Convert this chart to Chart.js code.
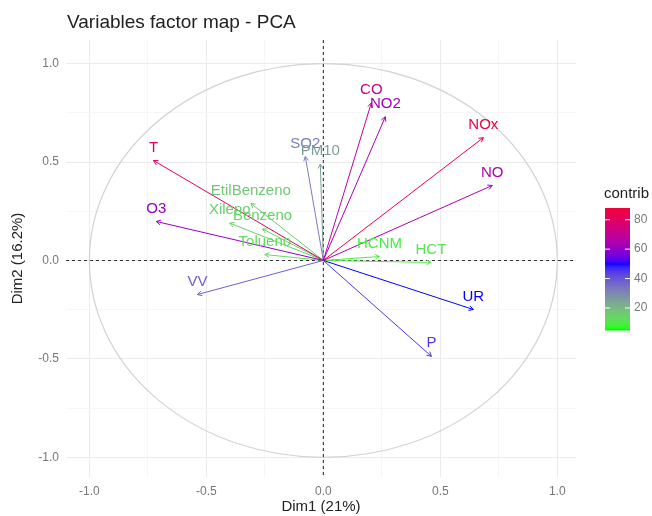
<!DOCTYPE html>
<html>
<head>
<meta charset="utf-8">
<script src="https://cdn.jsdelivr.net/npm/chart.js@4.4.0/dist/chart.umd.min.js"></script>
<style>
html,body{margin:0;padding:0;background:#fff}
#wrap{width:652px;height:516px}
</style>
</head>
<body>
<div id="wrap"><canvas id="pcaChart" width="652" height="516"></canvas></div>
<script>
// variables and their coordinates on Dim1 / Dim2
const variables = ['CO','NO2','NOx','NO','T','O3','VV','SO2','PM10','UR','P','EtilBenzeno','Xileno','Benzeno','Tolueno','HCNM','HCT']
const dim1 = [0.205,0.265,0.684,0.722,-0.726,-0.714,-0.538,-0.077,-0.013,0.641,0.462,-0.31,-0.40,-0.26,-0.25,0.24,0.46]
const dim2 = [0.80,0.73,0.624,0.381,0.508,0.198,-0.173,0.528,0.49,-0.249,-0.487,0.29,0.19,0.16,0.03,0.02,-0.01]
const contrib = [70,63,86,66,80,60,38,32,25,50,45,17,15,14,13,9,11]

const axisTicks = [-1,-0.5,0,0.5,1]
const axisTickLabels = ['-1.0','-0.5','0.0','0.5','1.0']
const minorTicks = [-0.75,-0.25,0.25,0.75]
const legendTicks = [20,40,60,80]
const legendLimits = [5,88]

// colour scale: green -> blue (mid 50) -> red, interpolated in Lab like ggplot
function toLab(hex){
  let c=[1,3,5].map(i=>parseInt(hex.substr(i,2),16)/255)
  c=c.map(v=>v<=0.04045?v/12.92:Math.pow((v+0.055)/1.055,2.4))
  let X=(0.4124*c[0]+0.3576*c[1]+0.1805*c[2])/0.95047
  let Y=(0.2126*c[0]+0.7152*c[1]+0.0722*c[2])
  let Z=(0.0193*c[0]+0.1192*c[1]+0.9505*c[2])/1.08883
  const f=t=>t>0.008856?Math.cbrt(t):7.787*t+16/116
  return [116*f(Y)-16,500*(f(X)-f(Y)),200*(f(Y)-f(Z))]
}
function fromLab(L,a,b){
  let fy=(L+16)/116,fx=fy+a/500,fz=fy-b/200
  const g=t=>t*t*t>0.008856?t*t*t:(t-16/116)/7.787
  let X=g(fx)*0.95047,Y=g(fy),Z=g(fz)*1.08883
  let r=3.2406*X-1.5372*Y-0.4986*Z
  let gg=-0.9689*X+1.8758*Y+0.0415*Z
  let bb=0.0557*X-0.2040*Y+1.0570*Z
  return 'rgb('+[r,gg,bb].map(v=>{
    v=v<=0.0031308?12.92*v:1.055*Math.pow(v,1/2.4)-0.055
    return Math.round(Math.min(1,Math.max(0,v))*255)
  }).join(',')+')'
}
const labLow=toLab('#00FF00'),labMid=toLab('#0000FF'),labHigh=toLab('#FF0000')
const cMin=legendLimits[0],cMax=legendLimits[1],cMidVal=50
function contribColor(v){
  let t=(v-cMidVal)/Math.max(Math.abs(cMin-cMidVal),Math.abs(cMax-cMidVal))/2+0.5
  let a,b,u
  if(t<0.5){a=labLow;b=labMid;u=t/0.5}else{a=labMid;b=labHigh;u=(t-0.5)/0.5}
  return fromLab(a[0]+(b[0]-a[0])*u,a[1]+(b[1]-a[1])*u,a[2]+(b[2]-a[2])*u)
}

const colors = contrib.map(contribColor)

const datasets = variables.map((v,i)=>({
  label:v,
  data:[{x:0,y:0},{x:dim1[i],y:dim2[i]}],
  showLine:true,
  borderColor:colors[i],
  borderWidth:1,
  pointRadius:0,
  fill:false
}))

Chart.defaults.font.family = "'Liberation Sans', Arial, sans-serif"

const decor = {
  id:'decor',
  beforeDatasetsDraw(chart){
    const {ctx,chartArea,scales:{x,y}} = chart
    const cx=x.getPixelForValue(0),cy=y.getPixelForValue(0)
    const rx=x.getPixelForValue(1)-cx,ry=cy-y.getPixelForValue(1)
    ctx.save()
    ctx.strokeStyle='#d2d2d2'
    ctx.lineWidth=1.2
    ctx.beginPath()
    ctx.ellipse(cx,cy,rx,ry,0,0,Math.PI*2)
    ctx.stroke()
    ctx.strokeStyle='#333'
    ctx.lineWidth=1.1
    ctx.setLineDash([3,3])
    ctx.beginPath()
    ctx.moveTo(chartArea.left,cy);ctx.lineTo(chartArea.right,cy)
    ctx.moveTo(cx,chartArea.top);ctx.lineTo(cx,chartArea.bottom)
    ctx.stroke()
    ctx.restore()
  },
  afterDatasetsDraw(chart){
    const {ctx} = chart
    ctx.save()
    variables.forEach((v,i)=>{
      const meta = chart.getDatasetMeta(i)
      const p0 = meta.data[0], p1 = meta.data[1]
      const ang = Math.atan2(p1.y-p0.y,p1.x-p0.x)
      const len = 5
      ctx.strokeStyle=colors[i]
      ctx.lineWidth=1
      ctx.beginPath()
      ctx.moveTo(p1.x-len*Math.cos(ang-0.5),p1.y-len*Math.sin(ang-0.5))
      ctx.lineTo(p1.x,p1.y)
      ctx.lineTo(p1.x-len*Math.cos(ang+0.5),p1.y-len*Math.sin(ang+0.5))
      ctx.stroke()
      ctx.fillStyle=colors[i]
      ctx.font="15px 'Liberation Sans', Arial, sans-serif"
      ctx.textAlign='center'
      ctx.textBaseline='middle'
      ctx.fillText(v,p1.x,p1.y-13)
    })
    // title
    ctx.fillStyle='#222'
    ctx.font="19px 'Liberation Sans', Arial, sans-serif"
    ctx.textAlign='left'
    ctx.textBaseline='middle'
    ctx.fillText('Variables factor map - PCA',chart.chartArea.left+1,23)
    // colour legend
    const lx=605,ly=208,lw=25,lh=122
    ctx.fillStyle='#222'
    ctx.font="15px 'Liberation Sans', Arial, sans-serif"
    ctx.fillText('contrib',604,194)
    for(let k=0;k<lh;k++){
      const val=cMax-(cMax-cMin)*(k/(lh-1))
      ctx.fillStyle=contribColor(val)
      ctx.fillRect(lx,ly+k,lw,1.5)
    }
    ctx.font="12px 'Liberation Sans', Arial, sans-serif"
    legendTicks.forEach(t=>{
      const py=ly+(cMax-t)/(cMax-cMin)*lh
      ctx.strokeStyle='#fff'
      ctx.lineWidth=1
      ctx.beginPath()
      ctx.moveTo(lx,py);ctx.lineTo(lx+5,py)
      ctx.moveTo(lx+lw-5,py);ctx.lineTo(lx+lw,py)
      ctx.stroke()
      ctx.fillStyle='#777'
      ctx.fillText(String(t),lx+lw+4,py)
    })
    ctx.restore()
  }
}

function setTicks(scale){
  scale.ticks = axisTicks.concat(minorTicks).sort((a,b)=>a-b).map(v=>({value:v}))
}
function tickLabel(val){
  const k = axisTicks.indexOf(val)
  return k>=0 ? axisTickLabels[k] : ''
}
function gridColor(c){
  return axisTicks.indexOf(c.tick && c.tick.value)>=0 ? '#ebebeb' : '#f6f6f6'
}

new Chart(document.getElementById('pcaChart'),{
  type:'scatter',
  data:{datasets:datasets},
  options:{
    responsive:false,
    animation:false,
    layout:{padding:{left:6,right:76,top:40,bottom:0}},
    plugins:{legend:{display:false},tooltip:{enabled:false}},
    scales:{
      x:{
        type:'linear',min:-1.10,max:1.08,
        afterBuildTicks:setTicks,
        afterFit(s){s.height=39},
        border:{display:false},
        grid:{color:gridColor,drawTicks:false,lineWidth:1},
        ticks:{callback:tickLabel,color:'#777',font:{size:12},padding:7,autoSkip:false,maxRotation:0},
        title:{display:true,text:'Dim1 (21%)',color:'#222',font:{size:15},padding:{top:0,bottom:0}}
      },
      y:{
        type:'linear',min:-1.10,max:1.12,
        afterBuildTicks:setTicks,
        afterFit(s){s.width=60},
        border:{display:false},
        grid:{color:gridColor,drawTicks:false,lineWidth:1},
        ticks:{callback:tickLabel,color:'#777',font:{size:12},padding:7,autoSkip:false},
        title:{display:true,text:'Dim2 (16.2%)',color:'#222',font:{size:15},padding:{top:3,bottom:0}}
      }
    }
  },
  plugins:[decor]
})
</script>
</body>
</html>
